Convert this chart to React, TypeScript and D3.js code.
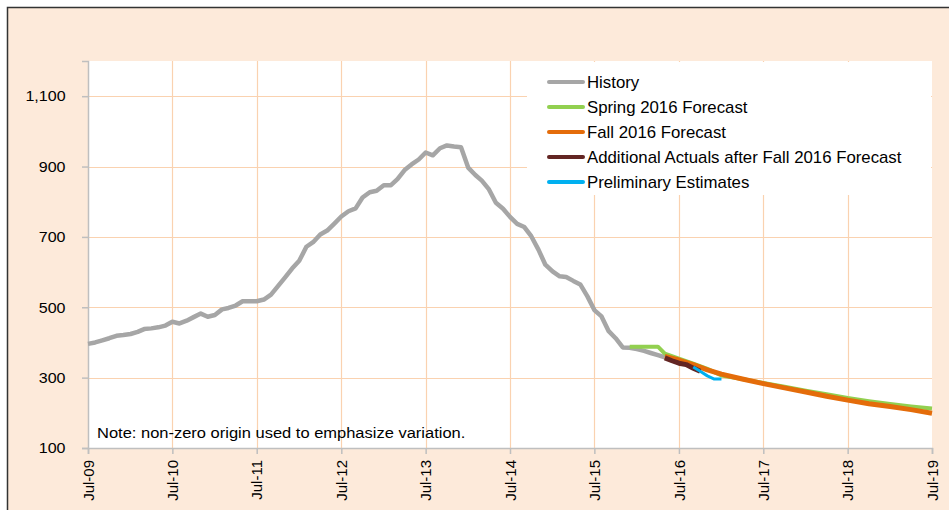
import React, { useEffect, useRef } from 'react'
import * as d3 from 'd3'

// monthly history, starting Jul-09
const historyStart = '2009-07'
const historyValues = [
  396, 400, 406, 412, 419, 421, 424, 430, 438, 440, 443, 448,
  459, 454, 462, 472, 482, 473, 478, 494, 498, 505, 517, 517,
  517, 522, 536, 560, 585, 610, 632, 672, 685, 707, 718, 738,
  758, 773, 781, 812, 827, 831, 847, 847, 864, 890, 906, 920,
  940, 932, 952, 960, 957, 955, 897, 876, 860, 835, 797, 780,
  757, 737, 728, 702, 664, 621, 602, 588, 586, 575, 565, 531,
  492, 474, 432, 412, 386, 385, 381, 376, 370, 364, 358,
]

const springDates = ['2015-12', '2016-04', '2016-05', '2016-07', '2016-09', '2016-11', '2017-01', '2017-04', '2017-07', '2017-10', '2018-01', '2018-04', '2018-07', '2018-10', '2019-01', '2019-04', '2019-07']
const springValues = [388, 388, 368, 354, 340, 325, 306, 296, 285, 274, 263, 253, 242, 233, 225, 218, 212]

const fallDates = ['2016-05', '2016-07', '2016-09', '2016-11', '2017-01', '2017-04', '2017-07', '2017-10', '2018-01', '2018-04', '2018-07', '2018-10', '2019-01', '2019-04', '2019-07']
const fallValues = [360, 350, 337, 322, 310, 296, 283, 271, 259, 247, 236, 226, 218, 209, 199]

const actualDates = ['2016-05', '2016-06', '2016-07', '2016-08', '2016-09', '2016-10']
const actualValues = [356, 348, 341, 337, 327, 318]

const prelimDates = ['2016-09', '2016-10', '2016-11', '2016-12', '2017-01']
const prelimValues = [330, 318, 305, 296, 296]

const yTicks = [100, 300, 500, 700, 900, 1100]

const seriesNames = [
  'History',
  'Spring 2016 Forecast',
  'Fall 2016 Forecast',
  'Additional Actuals after Fall 2016 Forecast',
  'Preliminary Estimates',
]
const seriesColors = ['#A6A6A6', '#92D050', '#E46C0A', '#632523', '#00B0F0']
const seriesWidths = [4.5, 4, 5, 5, 3]

const parse = d3.timeParse('%Y-%m')

export default function App() {
  const ref = useRef<SVGSVGElement>(null)

  useEffect(() => {
    const W = 949
    const H = 510
    const m = { left: 88, right: 932, top: 61, bottom: 448 }
    const font = 'Liberation Sans, Arial, sans-serif'

    const svg = d3.select(ref.current)
    svg.selectAll('*').remove()

    svg.append('rect').attr('width', W).attr('height', H).attr('fill', '#fff')
    svg
      .append('rect')
      .attr('x', 7.5)
      .attr('y', 7.5)
      .attr('width', 980)
      .attr('height', 560)
      .attr('fill', '#FDEADA')
      .attr('stroke', '#333')
      .attr('stroke-width', 1.5)

    const x = d3
      .scaleTime()
      .domain([parse('2009-07')!, parse('2019-07')!])
      .range([m.left, m.right])
    const y = d3.scaleLinear().domain([100, 1200]).range([m.bottom, m.top])

    svg
      .append('rect')
      .attr('x', m.left)
      .attr('y', m.top)
      .attr('width', m.right - m.left)
      .attr('height', m.bottom - m.top)
      .attr('fill', '#fff')

    const xTicks = d3.timeMonth.range(parse('2009-07')!, parse('2019-08')!, 12)

    // grid
    const grid = svg.append('g').attr('stroke', '#FAD2B0').attr('stroke-width', 1.2)
    grid
      .selectAll('line.h')
      .data(yTicks.slice(1))
      .enter()
      .append('line')
      .attr('x1', m.left)
      .attr('x2', m.right)
      .attr('y1', d => Math.round(y(d)) + 0.5)
      .attr('y2', d => Math.round(y(d)) + 0.5)
    grid
      .selectAll('line.v')
      .data(xTicks.slice(1, -1))
      .enter()
      .append('line')
      .attr('y1', m.top)
      .attr('y2', m.bottom)
      .attr('x1', d => Math.round(x(d)) + 0.5)
      .attr('x2', d => Math.round(x(d)) + 0.5)

    // axes
    const yAxis = svg
      .append('g')
      .attr('transform', `translate(${m.left},0)`)
      .call(d3.axisLeft(y).tickValues(yTicks).tickSize(6).tickPadding(15).tickFormat(d3.format(',')))
    const xAxis = svg
      .append('g')
      .attr('transform', `translate(0,${m.bottom})`)
      .call(d3.axisBottom(x).tickValues(xTicks).tickSize(6).tickFormat(d3.timeFormat('%b-%y') as any))
    ;[yAxis, xAxis].forEach(a => {
      a.select('.domain').attr('stroke', '#BFBFBF').attr('stroke-width', 1.5)
      a.selectAll('.tick line').attr('stroke', '#BFBFBF').attr('stroke-width', 1.5)
      a.selectAll('text').attr('font-family', font).attr('font-size', 15).attr('fill', '#000')
    })
    yAxis.selectAll('.tick text').attr('transform', 'scale(1.07,1)')
    xAxis
      .selectAll('.tick text')
      .attr('transform', 'rotate(-90)')
      .attr('text-anchor', 'end')
      .attr('x', -12)
      .attr('y', 0)
      .attr('dy', '0.35em')

    const line = d3
      .line<[Date, number]>()
      .x(d => x(d[0]))
      .y(d => y(d[1]))

    const histStart = parse(historyStart)!
    const series: [Date, number][][] = [
      historyValues.map((v, i) => [d3.timeMonth.offset(histStart, i), v]),
      springDates.map((d, i) => [parse(d)!, springValues[i]]),
      fallDates.map((d, i) => [parse(d)!, fallValues[i]]),
      actualDates.map((d, i) => [parse(d)!, actualValues[i]]),
      prelimDates.map((d, i) => [parse(d)!, prelimValues[i]]),
    ]

    series.forEach((s, i) => {
      svg
        .append('path')
        .datum(s)
        .attr('d', line)
        .attr('fill', 'none')
        .attr('stroke', seriesColors[i])
        .attr('stroke-width', seriesWidths[i])
        .attr('stroke-linejoin', 'round')
    })

    // legend
    const lg = svg.append('g')
    lg.append('rect').attr('x', 527).attr('y', 62).attr('width', 404).attr('height', 133).attr('fill', '#fff')
    seriesNames.forEach((name, i) => {
      const cy = 82 + i * 25
      lg.append('line')
        .attr('x1', 549)
        .attr('x2', 583)
        .attr('y1', cy)
        .attr('y2', cy)
        .attr('stroke', seriesColors[i])
        .attr('stroke-width', 4)
        .attr('stroke-linecap', 'round')
      lg.append('text')
        .attr('transform', `translate(587,${cy}) scale(1.05,1)`)
        .attr('dy', '0.35em')
        .attr('font-family', font)
        .attr('font-size', 16)
        .text(name)
    })

    svg
      .append('text')
      .attr('transform', 'translate(97,438) scale(1.1,1)')
      .attr('font-family', font)
      .attr('font-size', 15)
      .text('Note: non-zero origin used to emphasize variation.')
  }, [])

  return (
    <svg
      ref={ref}
      width={949}
      height={510}
      style={{ position: 'absolute', left: 0, top: 0, display: 'block' }}
    />
  )
}
